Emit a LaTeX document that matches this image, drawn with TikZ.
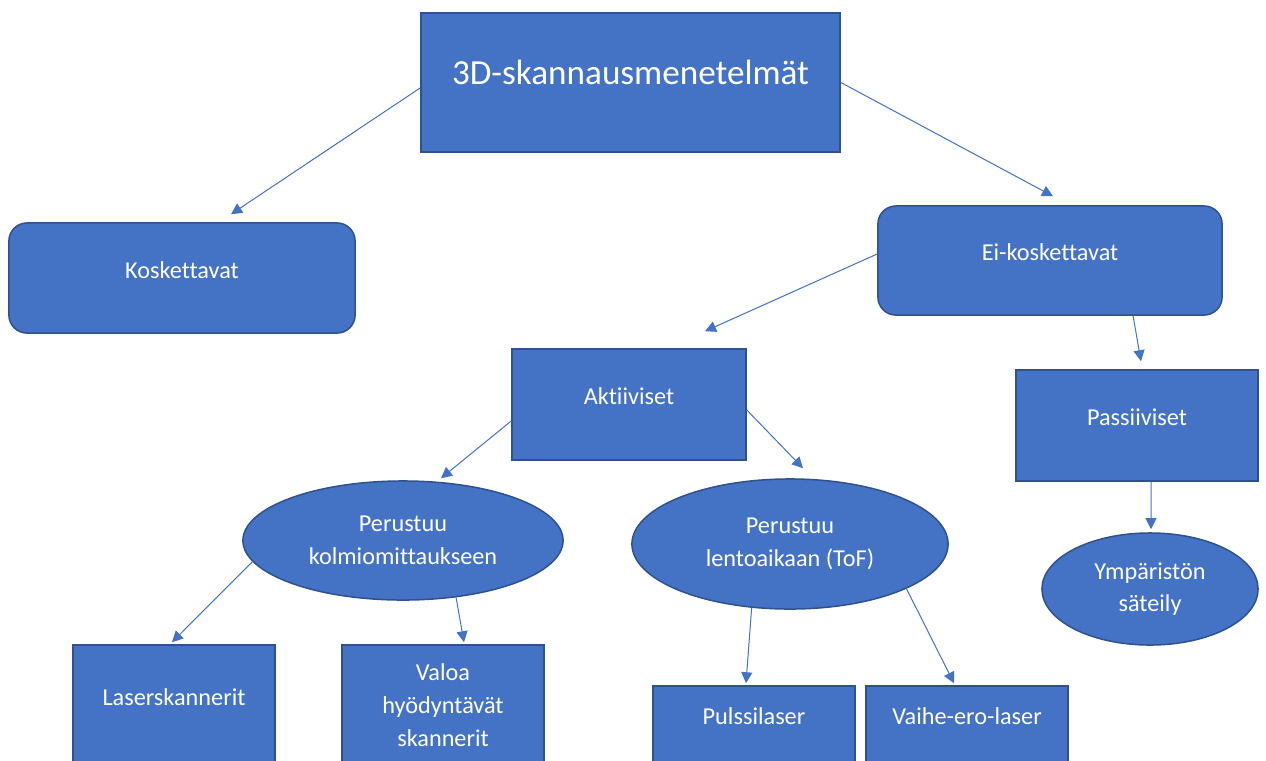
\documentclass[tikz,border=0pt]{standalone}
\usepackage{fontspec}
\setmainfont{Carlito}[Ligatures=NoCommon]
\usetikzlibrary{shapes.geometric, arrows.meta}
\definecolor{az}{HTML}{4472C4}
\definecolor{azb}{HTML}{2F528F}
\tikzset{
  blk/.style = {draw=azb, fill=az, text=white, line width=0.15mm,
    inner sep=0pt, align=center, font=\fontsize{6.9}{9.3}\selectfont},
  cx/.style = {blk, rectangle, text height=1.6mm, text depth=1.6mm},
  rcx/.style = {cx, rounded corners=1.8mm},
  ov/.style = {blk, ellipse},
  tit/.style = {cx, font=\fontsize{10}{12}\selectfont,
    text height=2.6mm, text depth=2.2mm},
  seta/.style = {-{Triangle[length=1.1mm, width=1.1mm]}, line width=0.1mm, draw=az}
}

\begin{document}
\begin{tikzpicture}[x=0.01cm, y=-0.01cm]
  \clip (0,0) rectangle (1266,760);
  \fill [white] (0,0) rectangle (1266,760);
  \node [tit, minimum width=41.9mm, minimum height=13.9mm] (r) at (630.5,82.5) {3D-skannausmenetelmät};
  \node [rcx, minimum width=34.6mm, minimum height=11mm] (ko) at (182,278) {Koskettavat};
  \node [rcx, minimum width=34.4mm, minimum height=10.9mm] (ei) at (1050,260.5) {Ei-koskettavat};
  \node [cx, minimum width=23.4mm, minimum height=11.1mm] (ak) at (629,404.5) {Aktiiviset};
  \node [cx, minimum width=24.2mm, minimum height=11.1mm] (pa) at (1137,425.5) {Passiiviset};
  \node [ov, minimum width=32mm, minimum height=11.9mm] (kt) at (403,540.5) {Perustuu\\kolmiomittaukseen};
  \node [ov, minimum width=31.6mm, minimum height=13mm] (tf) at (790,544) {Perustuu\\lentoaikaan (ToF)};
  \node [ov, minimum width=21.6mm, minimum height=11.2mm] (ym) at (1150,589) {Ympäristön\\säteily};
  \node [cx, minimum width=20.2mm, minimum height=12mm] (ls) at (174,705) {Laserskannerit};
  \node [blk, rectangle, minimum width=20.2mm, minimum height=12mm] (vl) at (443,705) {Valoa\\hyödyntävät\\skannerit};
  \node [cx, minimum width=20.2mm, minimum height=7.6mm] (pl) at (754,724) {Pulssilaser};
  \node [cx, minimum width=20.2mm, minimum height=7.6mm] (ve) at (967,724) {Vaihe-ero-laser};
  % nuolet
  \draw [seta] ([yshift=-0.55mm]r.west) -- ([xshift=4.9mm, yshift=0.8mm]ko.north);
  \draw [seta] (r.east) -- ([xshift=0.3mm, yshift=0.9mm]ei.north);
  \draw [seta] ([yshift=0.65mm]ei.west) -- ([xshift=7.6mm, yshift=1.7mm]ak.north);
  \draw [seta] ([xshift=8.3mm]ei.south) -- ([xshift=0.4mm, yshift=0.8mm]pa.north);
  \draw [seta] ([yshift=-1.65mm]ak.west) -- ([xshift=3.8mm, yshift=0.2mm]kt.north);
  \draw [seta] ([yshift=-0.55mm]ak.east) -- ([xshift=1.3mm, yshift=1mm]tf.north);
  \draw [seta] ([xshift=1.4mm]pa.south) -- ([xshift=0.1mm, yshift=0.3mm]ym.north);
  \draw [seta] (kt.188) -- ([xshift=-0.2mm, yshift=0.2mm]ls.north);
  \draw [seta] (kt.313) -- ([xshift=2.1mm, yshift=0.2mm]vl.north);
  \draw [seta] (tf.239) -- ([xshift=-0.8mm, yshift=0.2mm]pl.north);
  \draw [seta] (tf.339) -- ([xshift=-1.3mm, yshift=0.2mm]ve.north);
\end{tikzpicture}
\end{document}
